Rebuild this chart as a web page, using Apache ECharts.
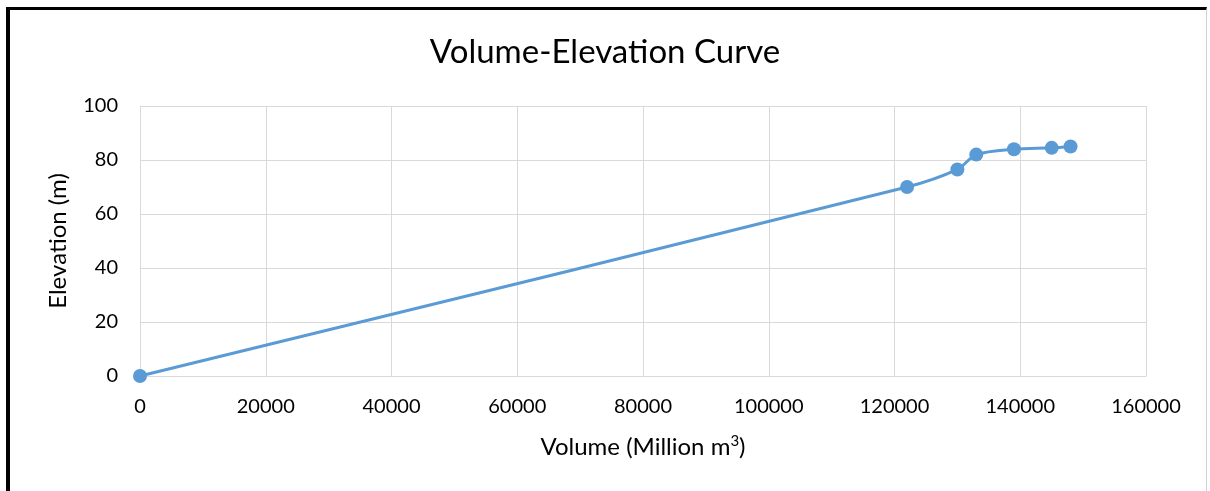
<!DOCTYPE html>
<html><head><meta charset="utf-8">
<script src="https://cdn.jsdelivr.net/npm/echarts@6/dist/echarts.min.js"></script>
<style>
html,body{margin:0;padding:0;background:#fff;}
#frame{position:absolute;left:6px;top:7px;width:1201px;height:484px;border-left:4px solid #000;border-top:3px solid #000;border-right:1px solid #d0d0d0;box-sizing:border-box;}
#c{position:absolute;left:0;top:0;width:1210px;height:491px;}
</style></head>
<body>
<div id="frame"></div>
<div id="c"></div>
<script>
const volumes = [0, 122000, 130000, 133000, 139000, 145000, 148000];
const elevations = [0, 70, 76.5, 82, 84, 84.5, 85];
const titleText = 'Volume-Elevation Curve';
const xName = 'Volume (Million m{sup|3})';
const yName = 'Elevation (m)';

const chart = echarts.init(document.getElementById('c'), null, {renderer:'canvas'});
const font = 'Lato, "Open Sans", sans-serif';
chart.setOption({
  animation:false,
  title:{text:titleText,left:'center',top:31,textStyle:{fontFamily:font,fontSize:33,fontWeight:'normal',color:'#000'}},
  grid:{left:140,right:64,top:106,bottom:115},
  xAxis:{type:'value',min:0,max:160000,interval:20000,
    name:xName,nameLocation:'middle',nameGap:58,
    nameTextStyle:{fontFamily:font,fontSize:24,color:'#000',rich:{sup:{fontSize:15,verticalAlign:'top',padding:[0,0,12,0],fontFamily:font,color:'#000'}}},
    axisLine:{show:true,lineStyle:{color:'#d9d9d9',width:1}},axisTick:{show:false},
    axisLabel:{fontFamily:font,fontSize:20,color:'#000',margin:21,formatter:v=>String(v)},
    splitLine:{show:true,lineStyle:{color:'#d9d9d9',width:1}}},
  yAxis:{type:'value',min:0,max:100,interval:20,
    name:yName,nameLocation:'middle',nameGap:70,
    nameTextStyle:{fontFamily:font,fontSize:24,color:'#000'},
    axisLine:{show:true,lineStyle:{color:'#d9d9d9',width:1}},axisTick:{show:false},
    axisLabel:{fontFamily:font,fontSize:20,color:'#000',margin:22,formatter:v=>String(v)},
    splitLine:{show:true,lineStyle:{color:'#d9d9d9',width:1}}},
  series:[{type:'line',data:volumes.map((v,i)=>[v,elevations[i]]),smooth:0.3,
    symbol:'circle',symbolSize:14,lineStyle:{color:'#5B9BD5',width:3},
    itemStyle:{color:'#5B9BD5'}}]
});
</script>
</body></html>
